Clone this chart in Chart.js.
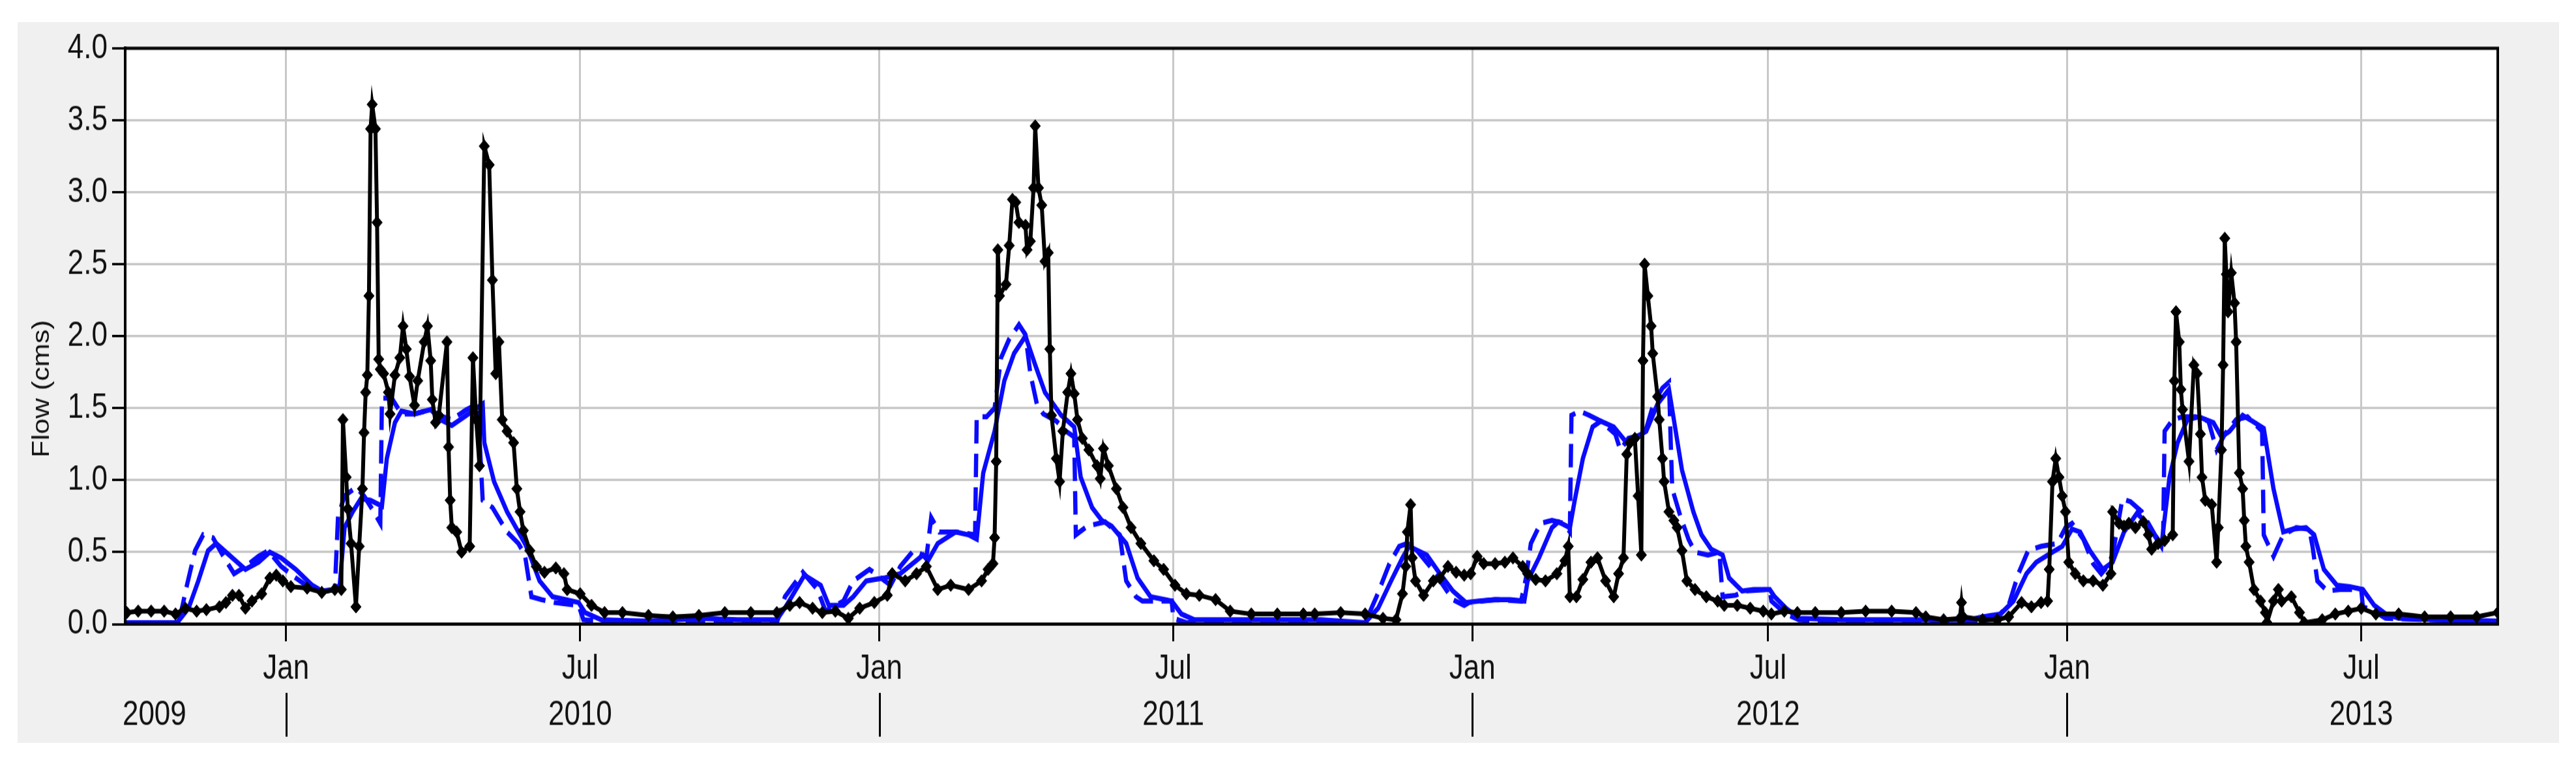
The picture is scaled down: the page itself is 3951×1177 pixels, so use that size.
<!DOCTYPE html>
<html>
<head>
<meta charset="utf-8">
<script src="https://cdn.jsdelivr.net/npm/chart.js@4.4.0/dist/chart.umd.min.js"></script>
<style>
  html, body { margin: 0; padding: 0; background: #fff; }
  #panel { position: absolute; left: 27px; top: 34px; width: 3898px; height: 1106px; background: #f0f0f0; overflow: hidden; }
  /* the original picture is a little stretched vertically */
  #flowChart { transform: scaleY(1.19957); transform-origin: 0 0; }
</style>
</head>
<body>
<div id="panel"><canvas id="flowChart" width="3898" height="922"></canvas></div>
<script>
// x values are days counted from 1 Jan 2010
const xMin = -99;
const xMax = 1361;

const monthTickDays = [0, 181, 365, 546, 730, 912, 1096, 1277];
const monthTickLabels = ["Jan", "Jul", "Jan", "Jul", "Jan", "Jul", "Jan", "Jul"];
const yearLabelDays = [-81, 181, 546, 912, 1277];
const yearLabels = ["2009", "2010", "2011", "2012", "2013"];
const yearBreakDays = [0, 365, 730, 1096];

// observed flow (black, markers)
const obsDay = [-98, -91, -83, -75, -68, -62, -55, -49, -41, -37, -33, -29, -25, -21, -15, -10, -6, -2, 3, 13, 22, 30, 34, 35, 37, 38, 40, 43, 45, 47, 48, 49, 50, 51, 52, 53, 55, 56, 57, 58, 60, 63, 64, 67, 70, 72, 74, 76, 79, 81, 85, 87, 89, 90, 92, 94, 99, 100, 101, 102, 105, 108, 113, 115, 117, 119, 122, 125, 127, 129, 131, 133, 136, 140, 142, 144, 146, 150, 154, 159, 166, 171, 173, 181, 188, 196, 207, 223, 238, 254, 270, 286, 302, 310, 316, 324, 330, 338, 346, 353, 362, 370, 373, 381, 388, 394, 401, 409, 420, 428, 432, 435, 436, 437, 438, 439, 443, 445, 447, 449, 451, 455, 456, 458, 460, 461, 463, 465, 467, 469, 470, 471, 474, 476, 478, 481, 483, 485, 487, 490, 494, 499, 501, 503, 506, 511, 515, 520, 526, 534, 540, 547, 554, 562, 572, 581, 594, 610, 626, 633, 649, 664, 675, 683, 687, 689, 690, 692, 693, 695, 700, 706, 710, 715, 720, 725, 729, 733, 737, 744, 750, 755, 761, 764, 769, 775, 782, 787, 789, 790, 794, 798, 803, 807, 812, 817, 820, 823, 825, 827, 830, 832, 834, 835, 836, 838, 840, 841, 844, 845, 847, 848, 851, 854, 856, 859, 862, 867, 874, 881, 885, 893, 901, 909, 914, 922, 930, 941, 957, 972, 988, 1003, 1009, 1020, 1030, 1031, 1032, 1044, 1053, 1060, 1068, 1074, 1080, 1084, 1085, 1087, 1089, 1091, 1093, 1095, 1097, 1101, 1106, 1112, 1118, 1123, 1124, 1128, 1131, 1134, 1138, 1143, 1146, 1148, 1152, 1156, 1161, 1162, 1163, 1165, 1166, 1167, 1171, 1174, 1176, 1178, 1179, 1181, 1185, 1188, 1189, 1191, 1192, 1193, 1194, 1195, 1197, 1199, 1200, 1202, 1204, 1205, 1206, 1208, 1211, 1215, 1218, 1219, 1223, 1226, 1228, 1234, 1239, 1242, 1253, 1261, 1269, 1277, 1286, 1300, 1316, 1332, 1348, 1361];
const obsFlow = [0.08, 0.09, 0.09, 0.09, 0.07, 0.11, 0.09, 0.10, 0.12, 0.15, 0.20, 0.20, 0.11, 0.16, 0.21, 0.32, 0.34, 0.30, 0.26, 0.25, 0.22, 0.24, 0.24, 1.42, 1.02, 0.80, 0.56, 0.12, 0.54, 0.94, 1.33, 1.61, 1.73, 2.28, 3.44, 3.61, 3.44, 2.79, 1.84, 1.77, 1.74, 1.61, 1.46, 1.73, 1.85, 2.07, 1.91, 1.72, 1.52, 1.69, 1.96, 2.07, 1.83, 1.56, 1.40, 1.45, 1.96, 1.23, 0.86, 0.67, 0.64, 0.50, 0.54, 1.85, 1.42, 1.10, 3.32, 3.19, 2.39, 1.74, 1.96, 1.42, 1.34, 1.26, 0.94, 0.78, 0.65, 0.51, 0.40, 0.36, 0.39, 0.35, 0.24, 0.21, 0.13, 0.08, 0.08, 0.06, 0.05, 0.06, 0.08, 0.08, 0.08, 0.13, 0.15, 0.11, 0.08, 0.09, 0.04, 0.11, 0.15, 0.20, 0.35, 0.30, 0.35, 0.40, 0.24, 0.27, 0.24, 0.30, 0.38, 0.42, 0.60, 1.13, 2.60, 2.28, 2.36, 2.63, 2.95, 2.93, 2.79, 2.77, 2.60, 2.66, 3.03, 3.46, 3.03, 2.91, 2.52, 2.58, 1.91, 1.45, 1.15, 0.99, 1.34, 1.61, 1.74, 1.60, 1.42, 1.29, 1.21, 1.10, 1.01, 1.22, 1.10, 0.94, 0.81, 0.67, 0.56, 0.44, 0.38, 0.27, 0.21, 0.20, 0.17, 0.09, 0.07, 0.07, 0.07, 0.07, 0.08, 0.07, 0.04, 0.03, 0.21, 0.40, 0.64, 0.83, 0.46, 0.30, 0.20, 0.30, 0.32, 0.40, 0.36, 0.34, 0.35, 0.47, 0.42, 0.42, 0.43, 0.46, 0.40, 0.35, 0.31, 0.30, 0.35, 0.44, 0.54, 0.19, 0.19, 0.31, 0.43, 0.46, 0.30, 0.19, 0.35, 0.46, 1.18, 1.26, 1.29, 0.89, 0.48, 1.83, 2.50, 2.28, 2.07, 1.88, 1.58, 1.42, 1.15, 0.99, 0.78, 0.72, 0.67, 0.51, 0.30, 0.24, 0.19, 0.16, 0.13, 0.13, 0.11, 0.09, 0.07, 0.09, 0.08, 0.08, 0.08, 0.09, 0.09, 0.08, 0.05, 0.03, 0.04, 0.15, 0.05, 0.03, 0.03, 0.05, 0.15, 0.12, 0.15, 0.16, 0.38, 0.99, 1.15, 1.02, 0.89, 0.78, 0.43, 0.35, 0.30, 0.30, 0.27, 0.35, 0.78, 0.70, 0.68, 0.70, 0.67, 0.71, 0.62, 0.52, 0.56, 0.58, 0.62, 1.69, 2.17, 1.96, 1.63, 1.49, 1.13, 1.80, 1.74, 1.32, 1.02, 0.86, 0.83, 0.43, 0.67, 1.21, 1.80, 2.68, 2.43, 2.17, 2.44, 2.23, 1.96, 1.05, 0.94, 0.72, 0.54, 0.43, 0.24, 0.16, 0.08, 0.01, 0.16, 0.24, 0.16, 0.19, 0.08, 0.01, 0.03, 0.07, 0.09, 0.11, 0.07, 0.07, 0.05, 0.05, 0.05, 0.08];

// simulated flow (blue solid)
const simDay = [-99, -67, -60, -54, -48, -43, -35, -25, -17, -10, -3, 6, 16, 22, 30, 33, 36, 41, 46, 52, 59, 62, 67, 71, 79, 89, 95, 102, 111, 121, 122, 128, 136, 147, 150, 156, 164, 180, 184, 194, 223, 254, 278, 302, 308, 319, 329, 334, 343, 349, 357, 368, 378, 392, 395, 401, 412, 420, 425, 429, 436, 442, 448, 455, 461, 467, 477, 485, 489, 496, 502, 508, 517, 524, 532, 545, 551, 559, 637, 664, 672, 680, 687, 691, 702, 710, 718, 726, 734, 744, 753, 762, 764, 771, 779, 783, 790, 793, 798, 804, 809, 817, 825, 831, 837, 844, 851, 854, 859, 866, 871, 877, 884, 888, 896, 903, 913, 916, 923, 931, 957, 988, 1036, 1044, 1055, 1063, 1071, 1077, 1087, 1093, 1099, 1104, 1110, 1118, 1124, 1131, 1139, 1145, 1154, 1159, 1164, 1170, 1177, 1186, 1191, 1196, 1204, 1210, 1217, 1223, 1229, 1235, 1243, 1248, 1254, 1262, 1270, 1278, 1285, 1292, 1300, 1324, 1361];
const simFlow = [0.01, 0.01, 0.11, 0.30, 0.51, 0.56, 0.48, 0.38, 0.43, 0.50, 0.46, 0.38, 0.27, 0.23, 0.24, 0.27, 0.67, 0.78, 0.87, 0.86, 0.82, 1.15, 1.40, 1.48, 1.46, 1.49, 1.42, 1.38, 1.45, 1.53, 1.26, 0.99, 0.78, 0.56, 0.48, 0.30, 0.19, 0.15, 0.08, 0.03, 0.02, 0.04, 0.03, 0.03, 0.13, 0.34, 0.27, 0.13, 0.13, 0.19, 0.30, 0.32, 0.35, 0.48, 0.44, 0.56, 0.64, 0.62, 0.59, 1.05, 1.34, 1.69, 1.88, 2.00, 1.80, 1.61, 1.45, 1.37, 1.02, 0.81, 0.72, 0.68, 0.56, 0.32, 0.19, 0.16, 0.07, 0.03, 0.03, 0.01, 0.11, 0.30, 0.46, 0.54, 0.48, 0.35, 0.23, 0.15, 0.16, 0.17, 0.17, 0.16, 0.30, 0.46, 0.67, 0.71, 0.67, 0.86, 1.15, 1.37, 1.41, 1.37, 1.26, 1.30, 1.34, 1.53, 1.63, 1.42, 1.07, 0.78, 0.62, 0.52, 0.48, 0.32, 0.23, 0.24, 0.24, 0.19, 0.11, 0.04, 0.03, 0.03, 0.03, 0.05, 0.07, 0.16, 0.35, 0.43, 0.50, 0.54, 0.66, 0.64, 0.51, 0.38, 0.43, 0.64, 0.77, 0.70, 0.54, 1.02, 1.26, 1.42, 1.44, 1.40, 1.30, 1.34, 1.45, 1.41, 1.36, 0.94, 0.64, 0.66, 0.67, 0.62, 0.38, 0.27, 0.26, 0.24, 0.13, 0.07, 0.04, 0.03, 0.02];

// second simulation (blue dashed)
const altDay = [-99, -66, -61, -56, -51, -45, -38, -32, -25, -17, -11, -3, 6, 16, 24, 30, 32, 36, 43, 48, 54, 58, 59, 65, 71, 79, 89, 94, 102, 111, 118, 121, 127, 136, 143, 147, 151, 157, 165, 180, 183, 207, 254, 302, 307, 318, 327, 332, 343, 349, 359, 372, 378, 386, 392, 394, 397, 402, 412, 424, 425, 431, 436, 440, 445, 451, 455, 458, 462, 466, 474, 480, 485, 486, 493, 504, 513, 517, 523, 527, 545, 546, 554, 637, 664, 671, 679, 685, 690, 696, 704, 712, 718, 725, 728, 744, 760, 763, 766, 772, 779, 786, 790, 791, 796, 802, 809, 818, 821, 826, 836, 842, 847, 851, 852, 853, 858, 863, 867, 875, 882, 884, 892, 898, 913, 914, 923, 931, 988, 1036, 1052, 1060, 1066, 1072, 1080, 1090, 1095, 1099, 1106, 1112, 1117, 1120, 1124, 1130, 1135, 1142, 1150, 1155, 1156, 1161, 1167, 1175, 1183, 1188, 1193, 1200, 1207, 1216, 1217, 1223, 1229, 1237, 1245, 1247, 1250, 1256, 1264, 1277, 1278, 1285, 1292, 1324, 1361];
const altFlow = [0.01, 0.01, 0.27, 0.51, 0.62, 0.60, 0.46, 0.35, 0.40, 0.47, 0.51, 0.40, 0.32, 0.24, 0.23, 0.24, 0.75, 0.89, 0.95, 0.89, 0.78, 0.70, 1.57, 1.57, 1.46, 1.46, 1.49, 1.45, 1.42, 1.49, 1.53, 0.86, 0.81, 0.64, 0.56, 0.48, 0.19, 0.17, 0.15, 0.13, 0.03, 0.01, 0.01, 0.01, 0.19, 0.36, 0.24, 0.09, 0.16, 0.30, 0.38, 0.27, 0.40, 0.51, 0.48, 0.46, 0.74, 0.64, 0.64, 0.62, 1.44, 1.44, 1.50, 1.85, 1.98, 2.08, 2.01, 1.74, 1.53, 1.46, 1.41, 1.34, 1.30, 0.62, 0.68, 0.71, 0.62, 0.30, 0.19, 0.16, 0.16, 0.04, 0.01, 0.01, 0.01, 0.19, 0.42, 0.54, 0.56, 0.51, 0.40, 0.27, 0.17, 0.13, 0.15, 0.17, 0.16, 0.32, 0.56, 0.70, 0.72, 0.70, 0.64, 1.45, 1.48, 1.45, 1.41, 1.32, 1.21, 1.29, 1.32, 1.55, 1.64, 1.68, 1.29, 0.94, 0.75, 0.59, 0.50, 0.48, 0.50, 0.19, 0.20, 0.23, 0.24, 0.16, 0.07, 0.03, 0.01, 0.01, 0.04, 0.13, 0.35, 0.51, 0.54, 0.56, 0.67, 0.70, 0.59, 0.42, 0.35, 0.39, 0.48, 0.87, 0.85, 0.78, 0.62, 0.54, 1.34, 1.42, 1.44, 1.44, 1.41, 1.21, 1.32, 1.42, 1.44, 1.34, 0.62, 0.47, 0.62, 0.67, 0.66, 0.54, 0.30, 0.23, 0.24, 0.24, 0.12, 0.09, 0.04, 0.03, 0.02];

const toPoints = (days, flows) => days.map((d, i) => ({ x: d, y: flows[i] }));

const tickFont = { family: "'Liberation Sans', Arial, sans-serif", size: 44 };

// white plot area, frame, year separators and the y title
const decorations = {
  id: "decorations",
  beforeDraw(chart) {
    const { ctx, chartArea } = chart;
    ctx.save();
    ctx.fillStyle = "#fff";
    ctx.fillRect(chartArea.left, chartArea.top, chartArea.right - chartArea.left, chartArea.bottom - chartArea.top);
    ctx.restore();
  },
  afterDatasetsDraw(chart) {
    const { ctx, chartArea } = chart;
    ctx.save();
    ctx.strokeStyle = "#000";
    ctx.lineWidth = 4;
    ctx.strokeRect(chartArea.left, chartArea.top, chartArea.right - chartArea.left, chartArea.bottom - chartArea.top);
    ctx.restore();
  },
  afterDraw(chart) {
    const { ctx } = chart;
    const x = chart.scales.x;
    const x2 = chart.scales.x2;
    ctx.save();
    ctx.strokeStyle = "#000";
    ctx.lineWidth = 3;
    yearBreakDays.forEach((d) => {
      const px = Math.round(x.getPixelForValue(d)) + 0.5;
      ctx.beginPath();
      ctx.moveTo(px, x2.top + 5);
      ctx.lineTo(px, x2.bottom - 8);
      ctx.stroke();
    });
    ctx.fillStyle = "#111";
    ctx.font = "36px 'Liberation Sans', Arial, sans-serif";
    ctx.textAlign = "center";
    ctx.textBaseline = "middle";
    ctx.translate(38, 469);
    ctx.rotate(-Math.PI / 2);
    ctx.fillText("Flow (cms)", 0, 0);
    ctx.restore();
  },
};

const ctx = document.getElementById("flowChart").getContext("2d");
new Chart(ctx, {
  type: "line",
  data: {
    datasets: [
      {
        label: "Observed",
        data: toPoints(obsDay, obsFlow),
        borderColor: "#000",
        backgroundColor: "#000",
        borderWidth: 6,
        pointStyle: "rectRot",
        pointRadius: 8,
        pointBorderWidth: 1,
        tension: 0,
      },
      {
        label: "Simulated",
        data: toPoints(simDay, simFlow),
        borderColor: "#0a0aff",
        borderWidth: 6.5,
        pointRadius: 0,
        tension: 0,
      },
      {
        label: "Simulated 2",
        data: toPoints(altDay, altFlow),
        borderColor: "#0a0aff",
        borderWidth: 6.5,
        borderDash: [30, 13],
        pointRadius: 0,
        tension: 0,
      },
    ],
  },
  options: {
    responsive: false,
    animation: false,
    layout: { padding: { top: 25, right: 94, left: 0, bottom: 0 } },
    plugins: {
      legend: { display: false },
      tooltip: { enabled: false },
    },
    scales: {
      x: {
        type: "linear",
        min: xMin,
        max: xMax,
        weight: 0,
        afterBuildTicks: (s) => { s.ticks = monthTickDays.map((v) => ({ value: v })); },
        afterFit: (s) => { s.height = 83; },
        ticks: {
          autoSkip: false,
          maxRotation: 0,
          padding: 9,
          color: "#111",
          font: tickFont,
          callback: (v, i) => monthTickLabels[i],
        },
        grid: { color: "#c8c8c8", lineWidth: 3, tickColor: "#000", tickLength: 22, tickWidth: 3 },
        border: { color: "#000", width: 4 },
      },
      x2: {
        type: "linear",
        position: "bottom",
        min: xMin,
        max: xMax,
        weight: 1,
        afterBuildTicks: (s) => { s.ticks = yearLabelDays.map((v) => ({ value: v })); },
        afterFit: (s) => { s.height = 69; },
        ticks: {
          autoSkip: false,
          maxRotation: 0,
          padding: 7,
          color: "#111",
          font: tickFont,
          callback: (v, i) => yearLabels[i],
        },
        grid: { display: false, drawTicks: false },
        border: { display: false },
      },
      y: {
        min: 0,
        max: 4,
        afterFit: (s) => { s.width = 165; },
        ticks: {
          stepSize: 0.5,
          padding: 7,
          color: "#111",
          font: tickFont,
          callback: (v) => v.toFixed(1),
        },
        grid: { color: "#c8c8c8", lineWidth: 3, tickColor: "#000", tickLength: 20, tickWidth: 3 },
        border: { color: "#000", width: 4 },
      },
    },
  },
  plugins: [decorations],
});
</script>
</body>
</html>
